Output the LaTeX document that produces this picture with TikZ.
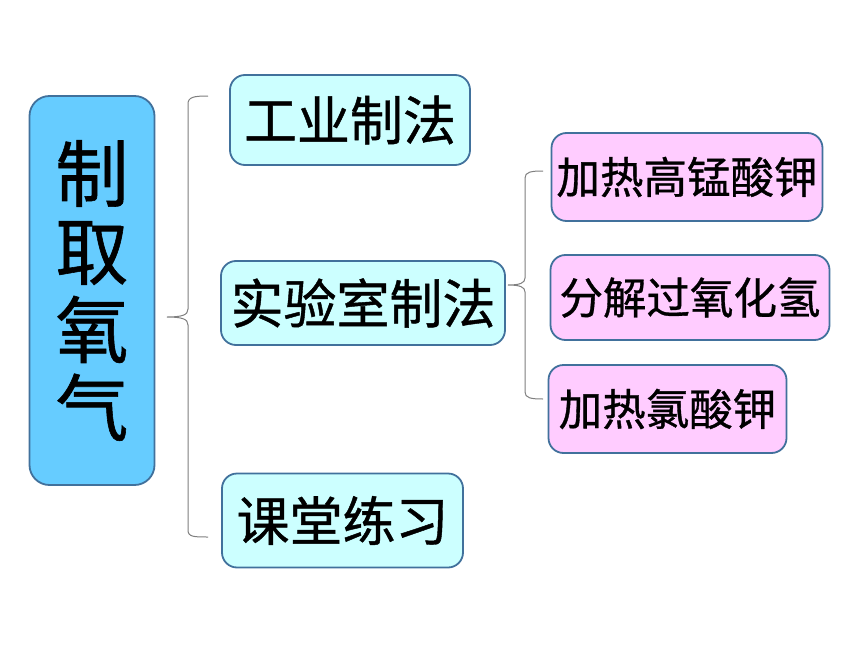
\documentclass[tikz,border=0pt]{standalone}
\usepackage{fontspec}
\newfontfamily\cjk[FakeBold=0.8]{Noto Sans CJK SC}
\definecolor{mainfill}{HTML}{66CCFF}
\definecolor{cyanfill}{HTML}{CCFFFF}
\definecolor{pinkfill}{HTML}{FFCCFF}
\definecolor{edge}{HTML}{41719C}
\definecolor{bracecol}{HTML}{7F7F7F}
\begin{document}
\begin{tikzpicture}[x=1pt,y=-1pt,
  box/.style={draw=edge,line width=1.8pt,rounded corners=15pt,inner sep=0pt,align=center},
  mainbox/.style={box,fill=mainfill,rounded corners=20pt,font=\cjk\fontsize{73}{78}\selectfont},
  lvlone/.style={box,fill=cyanfill,font=\cjk\fontsize{53}{58}\selectfont},
  lvltwo/.style={box,fill=pinkfill,font=\cjk\fontsize{43.5}{47}\selectfont},
  bracel/.style={draw=bracecol,line width=1pt}]
\useasboundingbox (0,0) rectangle (860,645);
\fill[white] (0,0) rectangle (860,645);
\node[mainbox,minimum width=125pt,minimum height=389pt] (main) at (92,290.5) {制\\取\\氧\\气};
\node[lvlone,minimum width=240pt,minimum height=90pt] (gy) at (350,120) {工业制法};
\node[lvlone,minimum width=284pt,minimum height=84pt] (sy) at (363,303) {实验室制法};
\node[lvlone,minimum width=241pt,minimum height=94pt] (kt) at (342.5,520.5) {课堂练习};
\node[lvltwo,minimum width=271pt,minimum height=88pt] (p1) at (687,177) {加热高锰酸钾};
\node[lvltwo,minimum width=279pt,minimum height=85pt] (p2) at (690,297.5) {分解过氧化氢};
\node[lvltwo,minimum width=238pt,minimum height=88pt] (p3) at (667.5,409) {加热氯酸钾};
% brace 1
\coordinate (b1t) at (208,96);
\coordinate (b1m) at (167,317);
\coordinate (b1b) at (208,537);
\draw[bracel] (b1t) .. controls (194,96) and (188,97) .. (188,104) -- (188,309)
  .. controls (188,315) and (182,317) .. (b1m)
  .. controls (182,317) and (188,319) .. (188,325) -- (188,530)
  .. controls (188,537) and (194,537) .. (b1b);
% brace 2
\coordinate (b2t) at (543,171);
\coordinate (b2m) at (508,285);
\coordinate (b2b) at (543,399);
\draw[bracel] (b2t) .. controls (531,171) and (525,172) .. (525,178) -- (525,278)
  .. controls (525,283) and (520,285) .. (b2m)
  .. controls (520,285) and (525,287) .. (525,292) -- (525,392)
  .. controls (525,398) and (531,399) .. (b2b);
\end{tikzpicture}
\end{document}
